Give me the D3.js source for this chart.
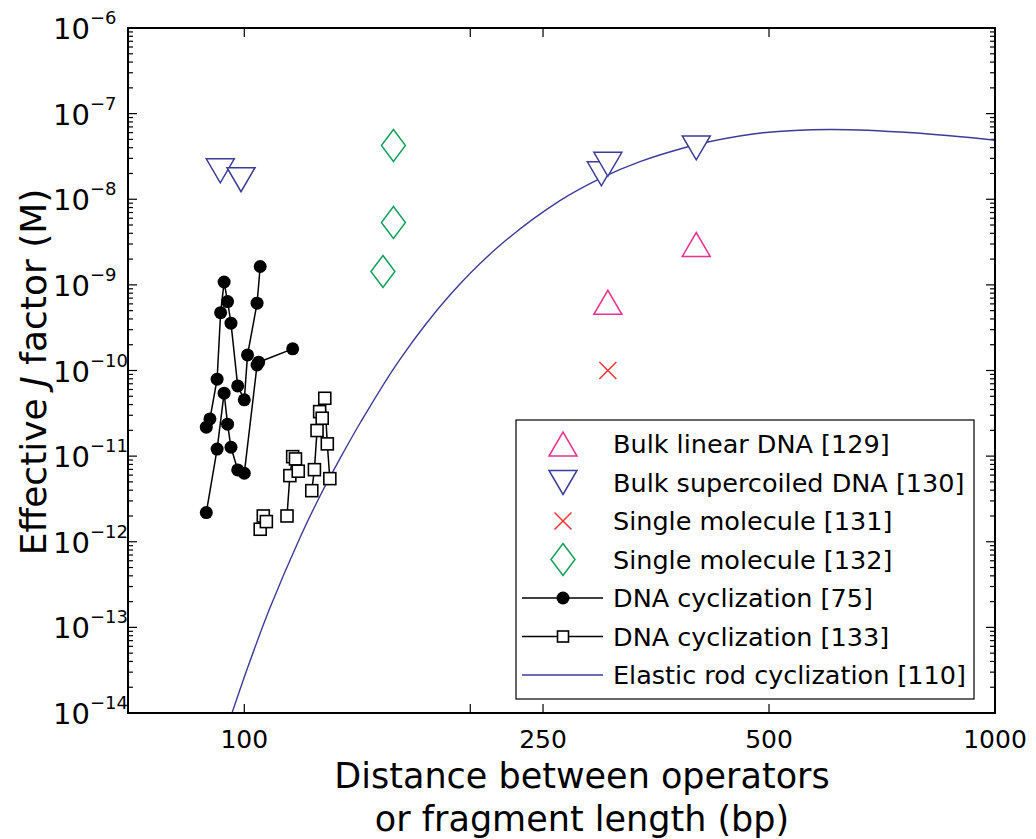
<!DOCTYPE html>
<html lang="en">
<head>
<meta charset="UTF-8">
<title>Effective J factor</title>
<script src="https://cdn.jsdelivr.net/npm/d3@7"></script>
<style>
    body { margin: 0; background: #fff; }
    svg { display: block; font-family: "DejaVu Sans", sans-serif; }
    .spine { fill: none; stroke: #000; stroke-width: 2; }
    .tick { stroke: #000; stroke-width: 1.2; }
</style>
</head>
<body>
<div id="chart"></div>
<script>
// ---- data (bp, molar) ----
let supercoiledX = [92.9, 99, 299, 305, 400]
let supercoiledJ = [2.15e-8, 1.69e-8, 1.98e-8, 2.56e-8, 3.98e-8]

let linearX = [305, 400]
let linearJ = [6.25e-10, 2.96e-9]

let singleMolX = [305]
let singleMolJ = [1.0e-10]

let diamondX = [158, 158, 153]
let diamondJ = [4.24e-8, 5.35e-9, 1.43e-9]

// DNA cyclization [75], two connected runs
let cyc75aX = [89, 92, 94, 95, 96, 98, 100, 104, 104.5, 116]
let cyc75aJ = [2.19e-12, 1.21e-11, 5.43e-11, 2.36e-11, 1.27e-11, 6.9e-12, 6.31e-12, 1.16e-10, 1.25e-10, 1.79e-10]
let cyc75bX = [89, 90, 92, 93, 94, 95, 96, 98, 100, 101, 104, 105]
let cyc75bJ = [2.18e-11, 2.72e-11, 7.91e-11, 4.74e-10, 1.08e-9, 6.38e-10, 3.57e-10, 6.61e-11, 4.54e-11, 1.52e-10, 6.11e-10, 1.64e-9]

// DNA cyclization [133], three runs
let cyc133aX = [105, 106, 107]
let cyc133aJ = [1.40e-12, 2.0e-12, 1.72e-12]
let cyc133bX = [114, 115, 116, 117, 118]
let cyc133bJ = [2.0e-12, 5.92e-12, 9.86e-12, 9.27e-12, 6.67e-12]
let cyc133cX = [123, 124, 125, 126, 127, 128, 129, 130]
let cyc133cJ = [3.95e-12, 6.95e-12, 1.99e-11, 3.31e-11, 2.77e-11, 4.74e-11, 1.39e-11, 5.46e-12]

// elastic rod cyclization [110]
let rodX = [96.3, 101.8, 108.2, 118.7, 126.1, 134.1, 142.6, 161.2, 187.9, 219.1, 263.3, 298.7, 336.6,
            389.9, 414.5, 490.9, 602.9, 777.6, 1000]
let rodJ = [1e-14, 4.07e-14, 1.69e-13, 1.13e-12, 3.40e-12, 9.33e-12, 2.42e-11, 1.35e-10, 7.61e-10, 2.90e-9,
            9.64e-9, 1.77e-8, 2.75e-8, 4.10e-8, 4.67e-8, 5.97e-8, 6.53e-8, 5.97e-8, 4.89e-8]

let xTicks = [100, 200, 250, 500, 1000]
let xTickLabels = ['100', '', '250', '500', '1000']
let yExponents = [-14, -13, -12, -11, -10, -9, -8, -7, -6]

let legendLabels = ['Bulk linear DNA [129]', 'Bulk supercoiled DNA [130]', 'Single molecule [131]',
    'Single molecule [132]', 'DNA cyclization [75]', 'DNA cyclization [133]', 'Elastic rod cyclization [110]']

// ---- layout ----
let W = 1036, H = 839
let L = 128, R = 995, T = 28, B = 713
let navy = '#3b3b98', magenta = '#e8318f', red = '#ef3434', green = '#14a05a'

let svg = d3.select('#chart').append('svg').attr('width', W).attr('height', H)

let x = d3.scaleLog().domain([70, 1000]).range([L, R])
let y = d3.scaleLog().domain([1e-14, 1e-6]).range([B, T])

svg.append('clipPath').attr('id', 'plot').append('rect')
    .attr('x', L).attr('y', T).attr('width', R - L).attr('height', B - T)

let zip = (xs, ys) => xs.map((d, i) => [d, ys[i]])

// marker shapes
let triDown = 'M-14,-12L14,-12L0,12Z'
let triUp = 'M-14,12L14,12L0,-12Z'
let diamond = 'M0,-16L12,0L0,16L-12,0Z'
let cross = 'M-8.5,-8.5L8.5,8.5M-8.5,8.5L8.5,-8.5'

// ---- ticks ----
let tk = svg.append('g')
yExponents.forEach(e => {
    let yy = y(Math.pow(10, e))
    tk.append('line').attr('class', 'tick').attr('x1', L).attr('x2', L + 9).attr('y1', yy).attr('y2', yy)
    tk.append('line').attr('class', 'tick').attr('x1', R).attr('x2', R - 9).attr('y1', yy).attr('y2', yy)
    if (e < -6) {
        for (let m = 2; m <= 9; m++) {
            let ym = y(m * Math.pow(10, e))
            tk.append('line').attr('class', 'tick').attr('x1', L).attr('x2', L + 5).attr('y1', ym).attr('y2', ym)
            tk.append('line').attr('class', 'tick').attr('x1', R).attr('x2', R - 5).attr('y1', ym).attr('y2', ym)
        }
    }
    tk.append('text').attr('x', 90).attr('y', yy + 11).attr('text-anchor', 'end')
        .style('font-size', '29px').text('10')
    tk.append('text').attr('x', 90).attr('y', yy - 4).style('font-size', '18px').text('\u2212' + Math.abs(e))
})
xTicks.forEach((v, i) => {
    let xx = x(v)
    tk.append('line').attr('class', 'tick').attr('x1', xx).attr('x2', xx).attr('y1', B).attr('y2', B - 9)
    tk.append('line').attr('class', 'tick').attr('x1', xx).attr('x2', xx).attr('y1', T).attr('y2', T + 9)
    tk.append('text').attr('x', xx).attr('y', 748).attr('text-anchor', 'middle')
        .style('font-size', '25px').text(xTickLabels[i])
})

// ---- elastic rod curve ----
let plot = svg.append('g').attr('clip-path', 'url(#plot)')
let line = d3.line().x(d => x(d[0])).y(d => y(d[1])).curve(d3.curveCatmullRom.alpha(0.5))
plot.append('path').datum(zip(rodX, rodJ)).attr('d', line)
    .attr('fill', 'none').attr('stroke', navy).attr('stroke-width', 1.4)

// ---- cyclization runs ----
let straight = d3.line().x(d => x(d[0])).y(d => y(d[1]))
let runs75 = [zip(cyc75aX, cyc75aJ), zip(cyc75bX, cyc75bJ)]
let runs133 = [zip(cyc133aX, cyc133aJ), zip(cyc133bX, cyc133bJ), zip(cyc133cX, cyc133cJ)]

runs133.forEach(run => {
    plot.append('path').datum(run).attr('d', straight).attr('fill', 'none').attr('stroke', '#000').attr('stroke-width', 1.5)
    plot.selectAll(null).data(run).enter().append('rect')
        .attr('x', d => x(d[0]) - 6).attr('y', d => y(d[1]) - 6).attr('width', 12).attr('height', 12)
        .attr('fill', '#fff').attr('stroke', '#000').attr('stroke-width', 1.6)
})
runs75.forEach(run => {
    plot.append('path').datum(run).attr('d', straight).attr('fill', 'none').attr('stroke', '#000').attr('stroke-width', 1.5)
    plot.selectAll(null).data(run).enter().append('circle')
        .attr('cx', d => x(d[0])).attr('cy', d => y(d[1])).attr('r', 6.5).attr('fill', '#000')
})

// ---- scatter markers ----
function markers(xs, ys, shape, color) {
    plot.selectAll(null).data(zip(xs, ys)).enter().append('path')
        .attr('d', shape)
        .attr('transform', d => `translate(${x(d[0])},${y(d[1])})`)
        .attr('fill', shape === cross ? 'none' : '#fff')
        .attr('stroke', color).attr('stroke-width', 1.5)
}
markers(supercoiledX, supercoiledJ, triDown, navy)
markers(linearX, linearJ, triUp, magenta)
markers(singleMolX, singleMolJ, cross, red)
markers(diamondX, diamondJ, diamond, green)

// ---- axes box ----
svg.append('rect').attr('class', 'spine').attr('x', L).attr('y', T).attr('width', R - L).attr('height', B - T)

// ---- axis labels ----
svg.append('text').attr('x', 582).attr('y', 788).attr('text-anchor', 'middle')
    .style('font-size', '35px').text('Distance between operators')
svg.append('text').attr('x', 582).attr('y', 831).attr('text-anchor', 'middle')
    .style('font-size', '35px').text('or fragment length (bp)')
let yl = svg.append('text').attr('transform', 'translate(46,372) rotate(-90)').attr('text-anchor', 'middle')
    .style('font-size', '36px')
yl.append('tspan').text('Effective ')
yl.append('tspan').style('font-style', 'italic').text('J')
yl.append('tspan').text(' factor (M)')

// ---- legend ----
let lg = svg.append('g')
lg.append('rect').attr('x', 516).attr('y', 420).attr('width', 458).attr('height', 279)
    .attr('fill', '#fff').attr('stroke', '#000').attr('stroke-width', 1.2)
let rowY = d3.range(legendLabels.length).map(i => 444 + i * 38.5)
let mx = 563
legendLabels.forEach((t, i) => {
    lg.append('text').attr('x', 613).attr('y', rowY[i] + 9).style('font-size', '25.5px').text(t)
})
let shapes = [[triUp, magenta], [triDown, navy], [cross, red], [diamond, green]]
shapes.forEach((s, i) => {
    lg.append('path').attr('d', s[0]).attr('transform', `translate(${mx},${rowY[i]})`)
        .attr('fill', s[0] === cross ? 'none' : '#fff').attr('stroke', s[1]).attr('stroke-width', 1.5)
})
;[4, 5, 6].forEach(i => {
    lg.append('line').attr('x1', 522).attr('x2', 603).attr('y1', rowY[i]).attr('y2', rowY[i])
        .attr('stroke', i === 6 ? navy : '#000').attr('stroke-width', i === 6 ? 1.4 : 1.5)
})
lg.append('circle').attr('cx', mx).attr('cy', rowY[4]).attr('r', 6.5).attr('fill', '#000')
lg.append('rect').attr('x', mx - 5.5).attr('y', rowY[5] - 5.5).attr('width', 11).attr('height', 11)
    .attr('fill', '#fff').attr('stroke', '#000').attr('stroke-width', 1.6)
</script>
</body>
</html>
